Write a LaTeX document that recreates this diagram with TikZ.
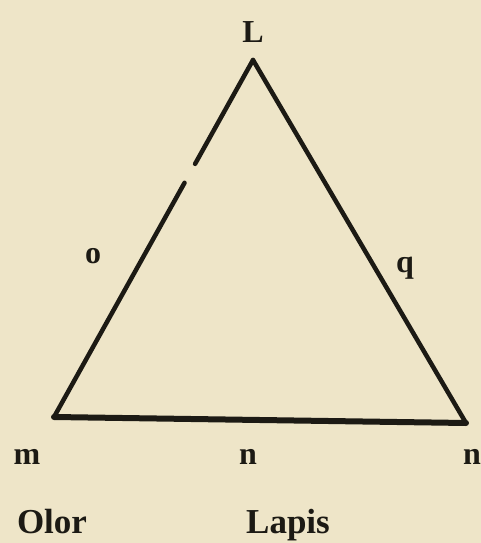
\documentclass[tikz,border=0pt]{standalone}
\usepackage{fontspec}
\setmainfont{Liberation Serif}
\usetikzlibrary{calc}
\definecolor{paper}{HTML}{EEE5C8}
\definecolor{ink}{HTML}{1C1A14}
\tikzset{
  every node/.style={text=ink},
  side/.style={draw=ink, line width=4.5pt, line cap=round, line join=miter},
  base/.style={draw=ink, line width=6pt, line cap=round},
  letter/.style={font=\bfseries\fontsize{32}{36}\selectfont, inner sep=0pt},
  word/.style={font=\bfseries\fontsize{35}{40}\selectfont, inner sep=0pt, anchor=base},
}

\begin{document}
\begin{tikzpicture}[x=1pt, y=-1pt]

  % ---------------------------------------------------------------- paper
  \fill[paper] (0, 0) rectangle (481, 543);
  \useasboundingbox (0, 0) rectangle (481, 543);

  % ---------------------------------------------------------------- corners
  \coordinate (apex) at (253, 60);
  \coordinate (left) at (54, 417);
  \coordinate (right) at (466, 423);

  % ---------------------------------------------------------------- triangle
  \draw[side] (left) -- ($(left)!0.656!(apex)$);
  \draw[side] ($(left)!0.709!(apex)$) -- (apex);
  \draw[side] (apex) -- (right);
  \draw[base] (left) -- (right);

  % ---------------------------------------------------------------- letters
  \node[letter] (labelL) at (253, 32) {L};
  \node[letter] (labelO) at (93, 256) {o};
  \node[letter] (labelQ) at (405, 268) {q};
  \node[letter] (labelM) at (27, 457) {m};
  \node[letter] (labelN) at (248, 457) {n};
  \node[letter] (labelNN) at (472, 457) {n};

  % ---------------------------------------------------------------- names
  \node[word] (olor) at (52, 533) {Olor};
  \node[word] (lapis) at (288, 533) {Lapis};

\end{tikzpicture}
\end{document}
